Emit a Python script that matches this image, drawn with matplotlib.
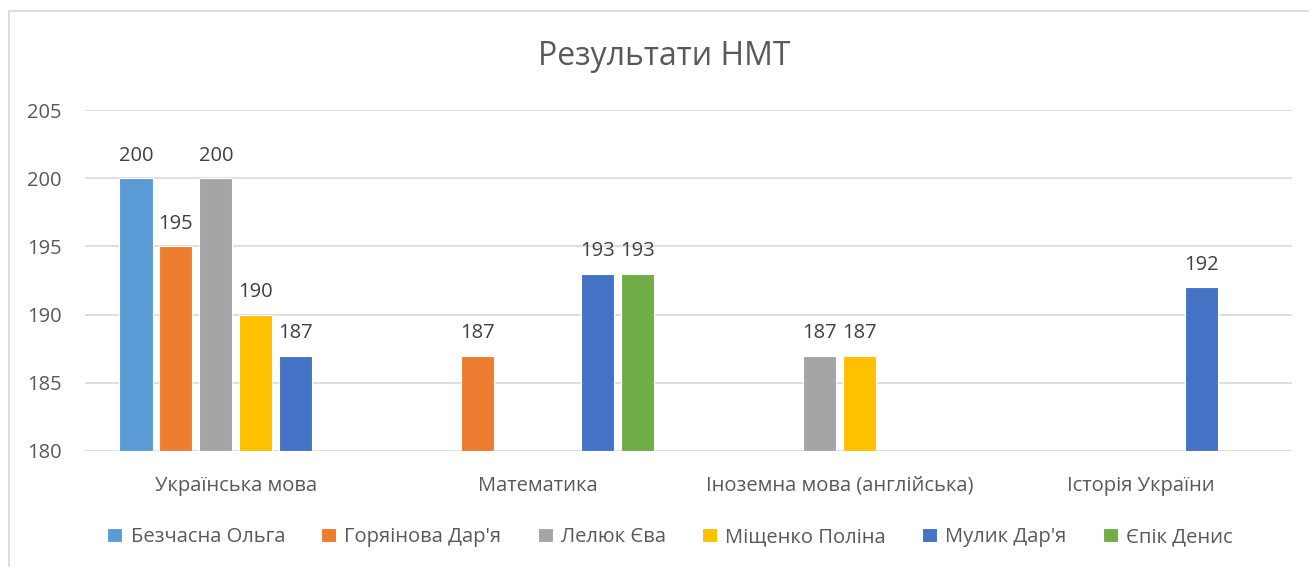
import numpy as np
import matplotlib
matplotlib.use('Agg')
import matplotlib.pyplot as plt
from matplotlib.patches import Rectangle

plt.rcParams['font.family'] = ['Open Sans', 'DejaVu Sans']

categories = ['Українська мова', 'Математика', 'Іноземна мова (англійська)', 'Історія України']
students = ['Безчасна Ольга', "Горяінова Дар'я", 'Лелюк Єва', 'Міщенко Поліна', "Мулик Дар'я", 'Єпік Денис']
nan = np.nan
bezchasna = [200, nan, nan, nan]
horiainova = [195, 187, nan, nan]
leliuk = [200, nan, 187, nan]
mishchenko = [190, nan, 187, nan]
mulyk = [187, 193, nan, 192]
epik = [nan, 193, nan, nan]
series = [bezchasna, horiainova, leliuk, mishchenko, mulyk, epik]
colors = ['#5B9BD5', '#ED7D31', '#A5A5A5', '#FFC000', '#4472C4', '#70AD47']

W, H = 1309, 567
fig = plt.figure(figsize=(W / 100, H / 100), dpi=100)
ax = fig.add_axes([85 / W, 1 - 451 / H, (1292 - 85) / W, (451 - 110) / H])

# рамка діаграми
fig.patches.append(Rectangle((9 / W, -0.1), 1.2, 1.1 - 11 / H, transform=fig.transFigure,
                             fill=False, edgecolor='#D9D9D9', linewidth=1.2))

x = np.arange(len(categories))
slot = 0.1325
bw = 0.11
for i, (vals, name, c) in enumerate(zip(series, students, colors)):
    pos = x + (i - 2.5) * slot
    v = np.array(vals, dtype=float)
    ax.bar(pos, v - 180, bottom=180, width=bw, color=c, edgecolor='white',
           linewidth=0.8, label=name, zorder=3)
    for xp, val in zip(pos, v):
        if not np.isnan(val):
            ax.text(xp, val + 0.9, f'{int(val)}', ha='center', va='bottom',
                    fontsize=14.5, color='#404040')

ax.set_xlim(-0.5, 3.5)
ax.set_ylim(180, 205)
ax.set_yticks(range(180, 206, 5))
ax.set_xticks(x)
ax.set_xticklabels(categories)
ax.tick_params(axis='y', length=0, pad=17, labelsize=14.5, labelcolor='#595959')
ax.tick_params(axis='x', length=0, pad=18, labelsize=14.5, labelcolor='#595959')
for s in ax.spines.values():
    s.set_visible(False)
ax.grid(axis='y', color='#D9D9D9', linewidth=1.2, zorder=0)
ax.set_axisbelow(True)

fig.text(664 / W, 1 - 57 / H, 'Результати НМТ', ha='center', va='center',
         fontsize=23, color='#595959')

fig.legend(loc='center', bbox_to_anchor=(670 / W, 1 - 537 / H), ncol=6, frameon=False,
           fontsize=14.5, labelcolor='#595959', handlelength=0.75, handleheight=0.75,
           handletextpad=0.4, columnspacing=1.8)

fig.savefig('out.png', dpi=100)
